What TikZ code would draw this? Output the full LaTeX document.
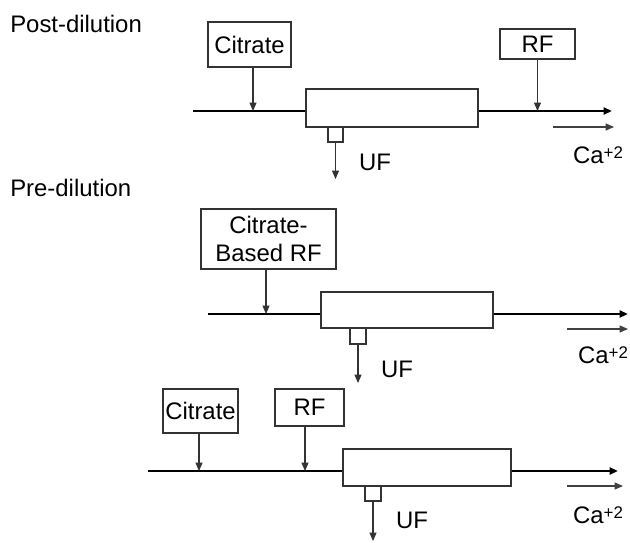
\documentclass[tikz,border=0pt]{standalone}
\usepackage{fontspec}
\setmainfont{Liberation Sans}
\usetikzlibrary{arrows.meta}

\tikzset{
  unit/.style={draw=black!80,line width=0.8pt,fill=white,inner sep=0pt,align=center},
  feed/.style={draw=black!80,line width=0.75pt,-{Triangle[length=6pt,width=5pt]}},
  blood/.style={line width=1.9pt},
  caflow/.style={draw=black!75,line width=0.9pt,-{Triangle[length=6pt,width=5pt]}},
  lbl/.style={font=\fontsize{17}{20}\selectfont,inner sep=0pt}
}
\newcommand{\caion}{Ca{\fontsize{12}{14}\selectfont\raisebox{0.55ex}{+2}}}

\begin{document}
\begin{tikzpicture}[x=0.025cm,y=-0.025cm]
      \useasboundingbox (0,0) rectangle (630,542);
      % post-dilution
      \node[lbl,anchor=west] (post) at (10,24) {Post-dilution};
      \node[unit,lbl,minimum width=83*0.025cm,minimum height=45*0.025cm] (cit1) at (249.5,44.5) {Citrate};
      \node[unit,lbl,minimum width=75*0.025cm,minimum height=30*0.025cm] (rf1) at (537.5,44) {RF};
      \node[unit,minimum width=172*0.025cm,minimum height=38*0.025cm] (filt1) at (392,108) {};
      \node[unit,minimum width=15*0.025cm,minimum height=15*0.025cm] (port1) at (335.5,134.5) {};
      \coordinate (in1) at (193,111);
      \coordinate (out1) at (612,111);
      \coordinate (uf1end) at (335.5,179);
      \draw[blood] (in1) -- (filt1.west |- in1);
      \draw[blood,-{Triangle[length=6pt,width=5pt]}] (filt1.east |- in1) -- (out1);
      \draw[feed] (cit1.south -| 253,0) -- (253,111);
      \draw[feed] (rf1.south) -- (rf1.south |- in1);
      \draw[feed] (port1.south) -- (uf1end);
      \node[lbl] (uf1) at (375,162) {UF};
      \coordinate (ca1a) at (553,127);
      \coordinate (ca1b) at (614,127);
      \draw[caflow] (ca1a) -- (ca1b);
      \node[lbl] (ca1) at (598,155) {\caion};
      % pre-dilution
      \node[lbl,anchor=west] (pre) at (10,188) {Pre-dilution};
      \node[unit,lbl,minimum width=135*0.025cm,minimum height=60*0.025cm] (cbrf) at (268.5,239) {Citrate-\\Based RF};
      \node[unit,minimum width=172*0.025cm,minimum height=36*0.025cm] (filt2) at (407,310) {};
      \node[unit,minimum width=16*0.025cm,minimum height=16*0.025cm] (port2) at (358,336) {};
      \coordinate (in2) at (208,314);
      \coordinate (out2) at (628,314);
      \coordinate (uf2end) at (358,383);
      \draw[blood] (in2) -- (filt2.west |- in2);
      \draw[blood,-{Triangle[length=6pt,width=5pt]}] (filt2.east |- in2) -- (out2);
      \draw[feed] (cbrf.south -| 266,0) -- (266,314);
      \draw[feed] (port2.south) -- (uf2end);
      \node[lbl] (uf2) at (397,369) {UF};
      \coordinate (ca2a) at (567,329);
      \coordinate (ca2b) at (628,329);
      \draw[caflow] (ca2a) -- (ca2b);
      \node[lbl] (ca2) at (603,355) {\caion};
      % pre-dilution, separate feeds
      \node[unit,lbl,minimum width=75*0.025cm,minimum height=44*0.025cm] (cit3) at (200.5,411) {Citrate};
      \node[unit,lbl,minimum width=69*0.025cm,minimum height=37*0.025cm] (rf3) at (309.5,407.5) {RF};
      \node[unit,minimum width=168*0.025cm,minimum height=37*0.025cm] (filt3) at (427,467.5) {};
      \node[unit,minimum width=16*0.025cm,minimum height=15*0.025cm] (port3) at (373,493.5) {};
      \coordinate (in3) at (148,471);
      \coordinate (out3) at (618,471);
      \coordinate (uf3end) at (373,541);
      \draw[blood] (in3) -- (filt3.west |- in3);
      \draw[blood,-{Triangle[length=6pt,width=5pt]}] (filt3.east |- in3) -- (out3);
      \draw[feed] (cit3.south -| 199,0) -- (199,471);
      \draw[feed] (rf3.south -| 305,0) -- (305,471);
      \draw[feed] (port3.south) -- (uf3end);
      \node[lbl] (uf3) at (412,520) {UF};
      \coordinate (ca3a) at (567,486);
      \coordinate (ca3b) at (623,486);
      \draw[caflow] (ca3a) -- (ca3b);
      \node[lbl] (ca3) at (598,515) {\caion};
    \end{tikzpicture}
\end{document}
